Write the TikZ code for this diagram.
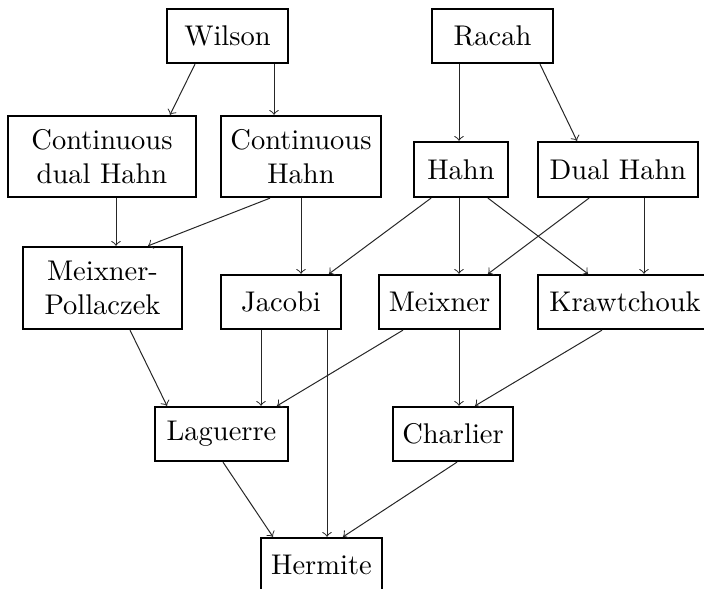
\documentclass[tikz,border=0pt]{standalone}
\usepackage{tikz}
\usepackage{amsmath}

\newdimen\px
\px=0.351pt

\begin{document}
\begin{tikzpicture}[x=\px,y=-\px,
  box/.style={draw,line width=0.8pt,rectangle,align=center,inner sep=0pt},
  arr/.style={->,line width=0.35pt,black!85}]

\clip (0,0) rectangle (704,588);

\node[box,minimum width=121\px,minimum height=54\px] (wil) at (227.5,36) {Wilson};
\node[box,minimum width=121\px,minimum height=54\px] (rac) at (492.5,36) {Racah};
\node[box,minimum width=188\px,minimum height=81\px] (cdh) at (102,156.5) {Continuous\\dual Hahn};
\node[box,minimum width=160\px,minimum height=81\px] (ch) at (301,156.5) {Continuous\\Hahn};
\node[box,minimum width=94\px,minimum height=55\px] (hahn) at (461,169.5) {Hahn};
\node[box,minimum width=160\px,minimum height=55\px] (dh) at (618,169.5) {Dual Hahn};
\node[box,minimum width=159\px,minimum height=82\px] (mp) at (102.5,288) {Meixner-\\Pollaczek};
\node[box,minimum width=120\px,minimum height=54\px] (jac) at (281,302) {Jacobi};
\node[box,minimum width=121\px,minimum height=54\px] (mei) at (439.5,302) {Meixner};
\node[box,minimum width=174\px,minimum height=54\px] (kra) at (625,302) {Krawtchouk};
\node[box,minimum width=133\px,minimum height=54\px] (lag) at (221.5,434) {Laguerre};
\node[box,minimum width=120\px,minimum height=54\px] (cha) at (453,434) {Charlier};
\node[box,minimum width=121\px,minimum height=54\px] (her) at (321.5,565) {Hermite};

% top level
\draw[arr] (wil.south -| 195,0) -- (cdh.north -| 170,0);
\draw[arr] (wil.south -| 274,0) -- (ch.north -| 274,0);
\draw[arr] (rac.south -| 459,0) -- (hahn.north -| 459,0);
\draw[arr] (rac.south -| 540,0) -- (dh.north -| 577,0);

% second level
\draw[arr] (cdh.south -| 116,0) -- (mp.north -| 116,0);
\draw[arr] (ch.south -| 270,0) -- (mp.north -| 148,0);
\draw[arr] (ch.south -| 301,0) -- (jac.north -| 301,0);
\draw[arr] (hahn.south -| 431,0) -- (jac.north -| 329,0);
\draw[arr] (hahn.south -| 459,0) -- (mei.north -| 459,0);
\draw[arr] (hahn.south -| 488,0) -- (kra.north -| 588,0);
\draw[arr] (dh.south -| 589,0) -- (mei.north -| 488,0);
\draw[arr] (dh.south -| 644,0) -- (kra.north -| 644,0);

% third level
\draw[arr] (mp.south -| 130,0) -- (lag.north -| 167,0);
\draw[arr] (jac.south -| 261,0) -- (lag.north -| 261,0);
\draw[arr] (jac.south -| 327,0) -- (her.north -| 327,0);
\draw[arr] (mei.south -| 403,0) -- (lag.north -| 277,0);
\draw[arr] (mei.south -| 459,0) -- (cha.north -| 459,0);
\draw[arr] (kra.south -| 602,0) -- (cha.north -| 475,0);

% bottom
\draw[arr] (lag.south -| 223,0) -- (her.north -| 273,0);
\draw[arr] (cha.south -| 457,0) -- (her.north -| 343,0);

\end{tikzpicture}
\end{document}
